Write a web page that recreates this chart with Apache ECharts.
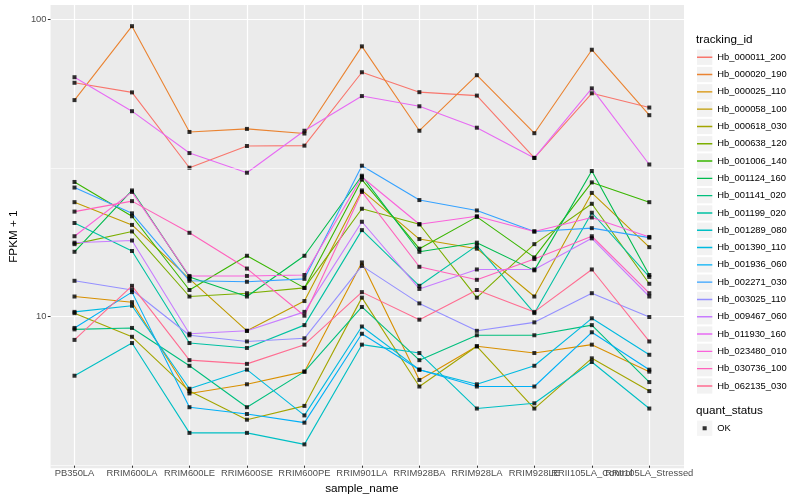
<!DOCTYPE html>
<html><head><meta charset="utf-8">
<script src="https://cdn.jsdelivr.net/npm/echarts@6/dist/echarts.min.js"></script>
<style>html,body{margin:0;padding:0;background:#fff}#c{width:800px;height:500px}</style>
</head><body><div id="c"></div>
<script>
const categories = ['PB350LA','RRIM600LA','RRIM600LE','RRIM600SE','RRIM600PE','RRIM901LA','RRIM928BA','RRIM928LA','RRIM928LE','RRII105LA_Control','RRII105LA_Stressed'];

const Hb_000011_200 = [60.9, 56.5, 31.4, 37.2, 37.3, 66.1, 56.6, 55.1, 33.9, 56.1, 50.2];
const Hb_000020_190 = [53.2, 94.7, 41.5, 42.5, 41.0, 80.9, 41.9, 64.6, 41.1, 78.8, 47.3];
const Hb_000025_110 = [11.5, 11.0, 5.4, 5.8, 6.4, 15.0, 6.0, 7.8, 7.4, 7.9, 6.4];
const Hb_000058_100 = [24.0, 20.1, 13.2, 8.8, 11.1, 26.3, 18.0, 16.7, 11.5, 25.8, 16.9];
const Hb_000618_030 = [10.1, 8.4, 5.5, 4.4, 4.9, 11.4, 5.7, 7.8, 4.8, 7.1, 5.5];
const Hb_000638_120 = [17.3, 19.1, 11.5, 11.8, 12.3, 22.8, 20.2, 11.4, 17.3, 23.7, 12.7];
const Hb_001006_140 = [28.1, 21.5, 12.1, 15.8, 12.3, 28.6, 16.7, 21.4, 15.6, 28.0, 24.0];
const Hb_001124_160 = [16.3, 26.3, 13.4, 11.5, 15.8, 29.5, 16.3, 17.5, 14.1, 30.6, 13.6];
const Hb_001141_020 = [8.9, 9.0, 6.7, 4.85, 6.4, 10.6, 7.0, 8.5, 8.5, 9.2, 5.9];
const Hb_001199_020 = [20.4, 16.4, 8.0, 7.7, 9.2, 19.3, 12.5, 17.1, 10.1, 22.1, 13.4];
const Hb_001289_080 = [6.2, 8.0, 3.97, 3.97, 3.63, 7.9, 7.4, 4.8, 5.0, 6.9, 4.8];
const Hb_001390_110 = [10.2, 10.7, 5.6, 6.5, 4.55, 9.1, 6.5, 5.8, 6.7, 9.7, 7.3];
const Hb_001936_060 = [9.0, 11.9, 4.85, 4.6, 4.3, 8.6, 6.5, 5.7, 5.7, 8.7, 6.5];
const Hb_002271_030 = [26.9, 22.0, 13.0, 12.9, 13.2, 31.9, 24.4, 22.5, 19.1, 19.6, 18.2];
const Hb_003025_110 = [13.0, 12.1, 8.5, 8.1, 8.3, 14.6, 10.9, 8.8, 9.4, 11.8, 9.8];
const Hb_009467_060 = [17.5, 17.8, 8.6, 8.8, 10.2, 20.6, 12.2, 14.2, 14.2, 18.1, 11.5];
const Hb_011930_160 = [63.6, 48.8, 35.2, 30.2, 41.9, 54.9, 50.7, 42.9, 33.9, 58.3, 32.2];
const Hb_023480_010 = [18.4, 26.0, 13.5, 13.5, 13.6, 29.2, 20.2, 21.5, 19.1, 21.3, 18.3];
const Hb_030736_100 = [22.3, 24.2, 18.9, 14.3, 9.9, 26.0, 14.5, 13.1, 15.4, 18.4, 11.8];
const Hb_062135_030 = [8.2, 12.5, 7.0, 6.8, 7.9, 11.9, 9.6, 12.1, 10.2, 14.2, 8.1];

const trackingIds = ['Hb_000011_200','Hb_000020_190','Hb_000025_110','Hb_000058_100','Hb_000618_030','Hb_000638_120','Hb_001006_140','Hb_001124_160','Hb_001141_020','Hb_001199_020','Hb_001289_080','Hb_001390_110','Hb_001936_060','Hb_002271_030','Hb_003025_110','Hb_009467_060','Hb_011930_160','Hb_023480_010','Hb_030736_100','Hb_062135_030'];
const seriesValues = [Hb_000011_200, Hb_000020_190, Hb_000025_110, Hb_000058_100, Hb_000618_030, Hb_000638_120, Hb_001006_140, Hb_001124_160, Hb_001141_020, Hb_001199_020, Hb_001289_080, Hb_001390_110, Hb_001936_060, Hb_002271_030, Hb_003025_110, Hb_009467_060, Hb_011930_160, Hb_023480_010, Hb_030736_100, Hb_062135_030];
const quantStatus = ['OK'];
const yMajorTicks = [10, 100];
const yMinorBreaks = [3.162, 31.62];

const palette = ['#F8766D','#EA8331','#D89000','#C09B00','#A3A500','#7CAE00','#39B600','#00BB4E','#00BF7D','#00C1A3','#00BFC4','#00BAE0','#00B0F6','#35A2FF','#9590FF','#C77CFF','#E76BF3','#FA62DB','#FF62BC','#FF6C91'];

const FONT = 'Liberation Sans';
const Y_MIN = 3.088, Y_MAX = 111.7;
const linePath = 'path://M0,0h0.01v0.01h-0.01Z M0,6.8h15v1.4h-15Z M14.99,14.99h0.01v0.01h-0.01Z';
const dotPath = 'path://M0,0h0.01v0.01h-0.01Z M5.5,5.5h4v4h-4Z M14.99,14.99h0.01v0.01h-0.01Z';

const chart = echarts.init(document.getElementById('c'), null, {renderer: 'canvas'});

const lineSeries = trackingIds.map((id, k) => ({
  name: id, type: 'line', xAxisIndex: 1, yAxisIndex: 1,
  data: seriesValues[k], symbol: 'none', silent: true, z: 2,
  lineStyle: {color: palette[k], width: 1.1},
  itemStyle: {color: palette[k]},
  emphasis: {disabled: true}
}));

const pointData = [];
seriesValues.forEach(arr => arr.forEach((v, i) => pointData.push([i, v])));

const legendText = {fontSize: 9.4, color: '#000', fontFamily: FONT};
const hidden = {fontSize: 9.4, color: 'rgba(0,0,0,0)', fontFamily: FONT};

chart.setOption({
  animation: false,
  backgroundColor: '#fff',
  textStyle: {fontFamily: FONT},
  title: [
    {text: 'tracking_id', left: 696, top: 34, padding: 0, textStyle: {fontSize: 11.7, fontWeight: 'normal', color: '#000', fontFamily: FONT}},
    {text: 'quant_status', left: 696, top: 405, padding: 0, textStyle: {fontSize: 11.7, fontWeight: 'normal', color: '#000', fontFamily: FONT}}
  ],
  grid: [
    {left: 40, right: 116, top: 5, bottom: 31.7, show: true, backgroundColor: '#EBEBEB', borderWidth: 0, containLabel: false},
    {left: 74.5, right: 150.7, top: 5, bottom: 31.7, show: false, containLabel: false}
  ],
  xAxis: [
    {gridIndex: 0, type: 'value', min: 0, max: 1, show: false},
    {gridIndex: 1, type: 'category', data: categories, boundaryGap: false,
     axisLine: {show: false},
     axisTick: {show: true, length: 2.7, lineStyle: {color: '#333333', width: 1}},
     axisLabel: {interval: 0, fontSize: 9.4, color: '#4D4D4D', margin: 4, fontFamily: FONT},
     splitLine: {show: true, lineStyle: {color: '#FFFFFF', width: 1.2}},
     name: 'sample_name', nameLocation: 'middle', nameGap: 15,
     nameTextStyle: {fontSize: 11.7, color: '#000', fontFamily: FONT}}
  ],
  yAxis: [
    {gridIndex: 0, type: 'log', logBase: 10, min: Y_MIN, max: Y_MAX,
     axisLine: {show: false},
     axisTick: {show: true, length: 2.7, customValues: yMajorTicks, lineStyle: {color: '#333333', width: 1}},
     axisLabel: {fontSize: 9.4, color: '#4D4D4D', margin: 4, fontFamily: FONT, customValues: yMajorTicks,
       formatter: v => { const hit = yMajorTicks.find(t => Math.abs(t - v) / t < 1e-6); return hit ? String(hit) : ''; }},
     splitLine: {show: true, lineStyle: {color: '#FFFFFF', width: 1.2}},
     name: 'FPKM + 1', nameLocation: 'middle', nameGap: 22, nameRotate: 90,
     nameTextStyle: {fontSize: 11.7, color: '#000', fontFamily: FONT}},
    {gridIndex: 1, type: 'log', logBase: 10, min: Y_MIN, max: Y_MAX, show: false}
  ],
  legend: [
    {orient: 'vertical', left: 697, top: 49.6, itemWidth: 15.3, itemHeight: 15.3, itemGap: 2,
     icon: 'rect', selectedMode: false, padding: 0, textStyle: legendText,
     itemStyle: {color: '#F2F2F2', borderWidth: 0},
     data: trackingIds.map(n => ({name: n}))},
    {orient: 'vertical', left: 697, top: 49.6, itemWidth: 15.3, itemHeight: 15.3, itemGap: 2,
     selectedMode: false, padding: 0, textStyle: hidden,
     data: trackingIds.map((n, k) => ({name: n, icon: linePath, itemStyle: {color: palette[k], borderWidth: 0}}))},
    {orient: 'vertical', left: 697, top: 420.6, itemWidth: 15.3, itemHeight: 15.3,
     icon: 'rect', selectedMode: false, padding: 0, textStyle: legendText,
     itemStyle: {color: '#F2F2F2', borderWidth: 0},
     data: quantStatus.map(n => ({name: n}))},
    {orient: 'vertical', left: 697, top: 420.6, itemWidth: 15.3, itemHeight: 15.3,
     selectedMode: false, padding: 0, textStyle: hidden,
     data: quantStatus.map(n => ({name: n, icon: dotPath, itemStyle: {color: '#000', borderWidth: 0}}))}
  ],
  series: [
    {name: 'minor-grid', type: 'line', xAxisIndex: 0, yAxisIndex: 0, data: [], z: 1, silent: true,
     markLine: {silent: true, symbol: 'none', label: {show: false}, animation: false,
       lineStyle: {color: '#FFFFFF', width: 0.6, type: 'solid'},
       data: yMinorBreaks.map(v => ({yAxis: v}))}}
  ].concat(lineSeries).concat([
    {name: 'OK', type: 'scatter', xAxisIndex: 1, yAxisIndex: 1, data: pointData,
     symbol: 'rect', symbolSize: 4, itemStyle: {color: '#000'}, z: 3, silent: true}
  ])
});
</script>
</body></html>
